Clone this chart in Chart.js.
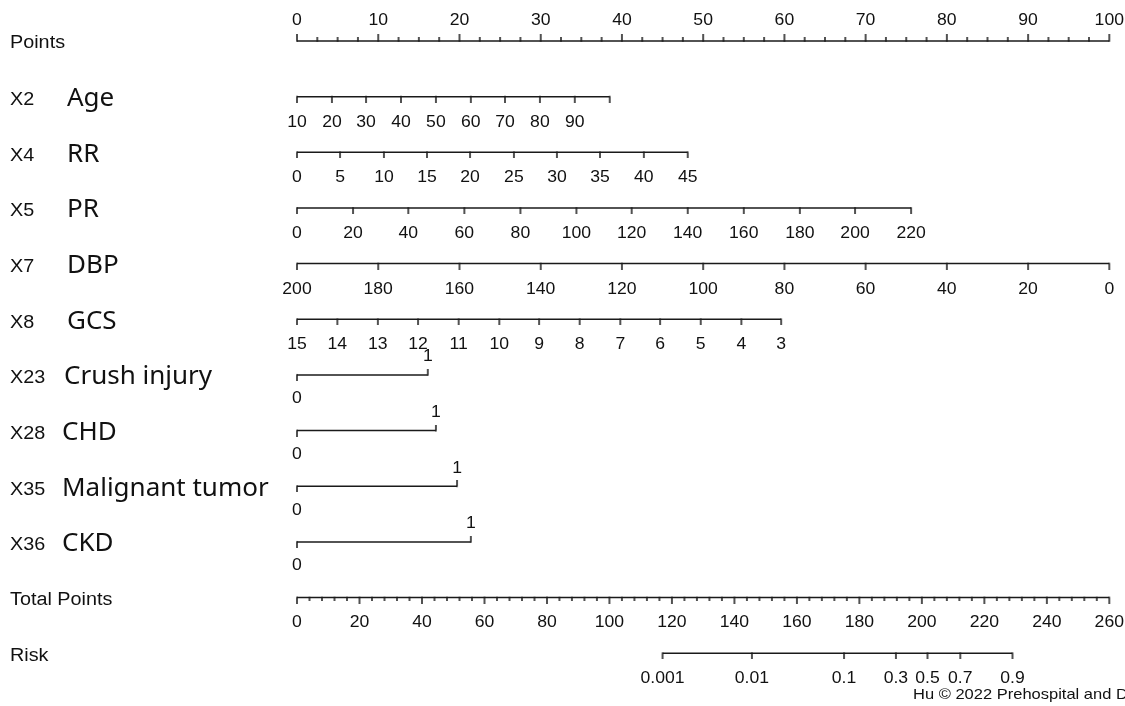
<!DOCTYPE html>
<html><head><meta charset="utf-8">
<script src="https://cdn.jsdelivr.net/npm/chart.js@4.4.0/dist/chart.umd.min.js"></script>
<style>html,body{margin:0;padding:0;background:#fff;overflow:hidden}canvas{display:block}</style>
</head><body><canvas id="c" width="1125" height="706"></canvas>
<script>
// ---------- DATA ----------
const rowNames = ['Points','Age','RR','PR','DBP','GCS','Crush injury','CHD','Malignant tumor','CKD','Total Points','Risk'];
const rowCodes = ['','X2','X4','X5','X7','X8','X23','X28','X35','X36','',''];

const pointsLabels = ['0','10','20','30','40','50','60','70','80','90','100'];
const pointsValues = [0,10,20,30,40,50,60,70,80,90,100];
const pointsMinorStep = 2.5;

const ageLabels = ['10','20','30','40','50','60','70','80','90',''];
const agePoints = [0,4.3,8.5,12.8,17.1,21.4,25.6,29.9,34.2,38.5];

const rrLabels = ['0','5','10','15','20','25','30','35','40','45'];
const rrPoints = [0,5.3,10.7,16.0,21.3,26.7,32.0,37.3,42.7,48.1];

const prLabels = ['0','20','40','60','80','100','120','140','160','180','200','220'];
const prPoints = [0,6.9,13.7,20.6,27.5,34.4,41.2,48.1,55.0,61.9,68.7,75.6];

const dbpLabels = ['200','180','160','140','120','100','80','60','40','20','0'];
const dbpPoints = [0,10,20,30,40,50,60,70,80,90,100];

const gcsLabels = ['15','14','13','12','11','10','9','8','7','6','5','4','3'];
const gcsPoints = [0,4.97,9.95,14.9,19.9,24.9,29.8,34.8,39.8,44.7,49.7,54.7,59.6];

const crushLabels = ['0','1'];
const crushPoints = [0,16.1];
const chdLabels = ['0','1'];
const chdPoints = [0,17.1];
const tumorLabels = ['0','1'];
const tumorPoints = [0,19.7];
const ckdLabels = ['0','1'];
const ckdPoints = [0,21.4];

const totalLabels = ['0','20','40','60','80','100','120','140','160','180','200','220','240','260'];
const totalValues = [0,20,40,60,80,100,120,140,160,180,200,220,240,260];
const totalMinorStep = 4;

const riskLabels = ['0.001','0.01','0.1','0.3','0.5','0.7','0.9'];
const riskTotalPoints = [117.0,145.6,175.1,191.7,201.8,212.3,229.0];

const footerText = 'Hu \u00A9 2022 Prehospital and Disaster Medicine';

// ---------- STYLE ----------
const INK = '#1a1a1a';
const TXT = '#111';
const LW = 1.5;
const tickFont = '16px "Liberation Sans", Arial, sans-serif';
const codeFont = '18px "Liberation Sans", Arial, sans-serif';
const nameFont = '26px "Noto Sans", "Open Sans", sans-serif';
const TEXT_SX = 1.1;

function makeTick(len, dir) {
  const c = document.createElement('canvas');
  c.width = 4; c.height = Math.ceil(len * 2);
  const g = c.getContext('2d');
  g.fillStyle = INK;
  if (dir > 0) g.fillRect((4 - LW) / 2, c.height / 2 - LW / 2, LW, c.height / 2 + LW / 2);
  else g.fillRect((4 - LW) / 2, 0, LW, c.height / 2 + LW / 2);
  return c;
}
const tickDown = makeTick(6, 1);
const tickUp = makeTick(6, -1);
const majorUp = makeTick(7, -1);
const minorUp = makeTick(4, -1);
const majorDown = makeTick(6, 1);
const minorDown = makeTick(3.5, 1);

function minorList(values, step) {
  const out = [];
  const lo = values[0], hi = values[values.length - 1];
  for (let v = lo; v <= hi + 1e-9; v += step) {
    if (!values.some(m => Math.abs(m - v) < 1e-6)) out.push(v);
  }
  return out;
}

const rows = [
  {row: 0, labels: pointsLabels, vals: pointsValues, axis: 'x', kind: 'top'},
  {row: 1, labels: ageLabels, vals: agePoints, axis: 'x', kind: 'below'},
  {row: 2, labels: rrLabels, vals: rrPoints, axis: 'x', kind: 'below'},
  {row: 3, labels: prLabels, vals: prPoints, axis: 'x', kind: 'below'},
  {row: 4, labels: dbpLabels, vals: dbpPoints, axis: 'x', kind: 'below'},
  {row: 5, labels: gcsLabels, vals: gcsPoints, axis: 'x', kind: 'below'},
  {row: 6, labels: crushLabels, vals: crushPoints, axis: 'x', kind: 'binary'},
  {row: 7, labels: chdLabels, vals: chdPoints, axis: 'x', kind: 'binary'},
  {row: 8, labels: tumorLabels, vals: tumorPoints, axis: 'x', kind: 'binary'},
  {row: 9, labels: ckdLabels, vals: ckdPoints, axis: 'x', kind: 'binary'},
  {row: 10, labels: totalLabels, vals: totalValues, axis: 'xt', kind: 'total'},
  {row: 11, labels: riskLabels, vals: riskTotalPoints, axis: 'xt', kind: 'below'}
];
const nameX = [10, 67, 67, 67, 67, 67, 64, 62, 62, 62, 10, 10];

const datasets = [];
rows.forEach(r => {
  const lo = Math.min(...r.vals), hi = Math.max(...r.vals);
  datasets.push({
    data: [{x: lo, y: r.row}, {x: hi, y: r.row}],
    xAxisID: r.axis, showLine: true, borderColor: INK, borderWidth: LW,
    pointRadius: 0, clip: false
  });
  let styles;
  if (r.kind === 'top') styles = majorUp;
  else if (r.kind === 'total') styles = majorDown;
  else if (r.kind === 'binary') styles = [tickDown, tickUp];
  else styles = tickDown;
  datasets.push({
    data: r.vals.map(v => ({x: v, y: r.row})),
    xAxisID: r.axis, showLine: false, pointStyle: styles, pointRadius: 8,
    borderWidth: 0, clip: false
  });
  if (r.kind === 'top' || r.kind === 'total') {
    const mins = minorList(r.vals, r.kind === 'top' ? pointsMinorStep : totalMinorStep);
    datasets.push({
      data: mins.map(v => ({x: v, y: r.row})),
      xAxisID: r.axis, showLine: false, pointStyle: r.kind === 'top' ? minorUp : minorDown,
      pointRadius: 8, borderWidth: 0, clip: false
    });
  }
});

function drawText(ctx, text, x, y, align, font, sx) {
  ctx.save();
  ctx.font = font;
  ctx.fillStyle = TXT;
  ctx.textAlign = align;
  ctx.textBaseline = 'middle';
  ctx.translate(x, y);
  ctx.scale(sx, 1);
  ctx.fillText(text, 0, 0);
  ctx.restore();
}

const labelPlugin = {
  id: 'nomoLabels',
  afterDatasetsDraw(chart) {
    const ctx = chart.ctx;
    const ys = chart.scales.y;
    rows.forEach((r, i) => {
      const sc = chart.scales[r.axis];
      const ly = ys.getPixelForValue(r.row);
      r.labels.forEach((t, j) => {
        if (!t) return;
        const px = sc.getPixelForValue(r.vals[j]);
        let off;
        if (r.kind === 'top') off = -20;
        else if (r.kind === 'binary') off = (j === 0 ? 24 : -18);
        else off = 25.5;
        drawText(ctx, t, px, ly + off, 'center', tickFont, TEXT_SX);
      });
      if (rowCodes[i]) {
        drawText(ctx, rowCodes[i], 10, ly + 3.5, 'left', codeFont, TEXT_SX);
        drawText(ctx, rowNames[i], nameX[i], ly + 2, 'left', nameFont, 1);
      } else {
        drawText(ctx, rowNames[i], 10, ly + 2.5, 'left', codeFont, TEXT_SX);
      }
    });
    drawText(ctx, footerText, 913, 695, 'left', '15px "Liberation Sans", Arial, sans-serif', TEXT_SX);
  }
};

new Chart(document.getElementById('c'), {
  type: 'scatter',
  data: {datasets},
  options: {
    responsive: false,
    devicePixelRatio: 1,
    animation: false,
    events: [],
    layout: {padding: {left: 297, right: 15.7, top: 41, bottom: 52.8}},
    plugins: {legend: {display: false}, tooltip: {enabled: false}},
    scales: {
      x: {type: 'linear', min: 0, max: 100, display: false},
      xt: {type: 'linear', min: 0, max: 260, display: false, axis: 'x'},
      y: {type: 'linear', min: 0, max: 11, reverse: true, display: false}
    }
  },
  plugins: [labelPlugin]
});
</script></body></html>
